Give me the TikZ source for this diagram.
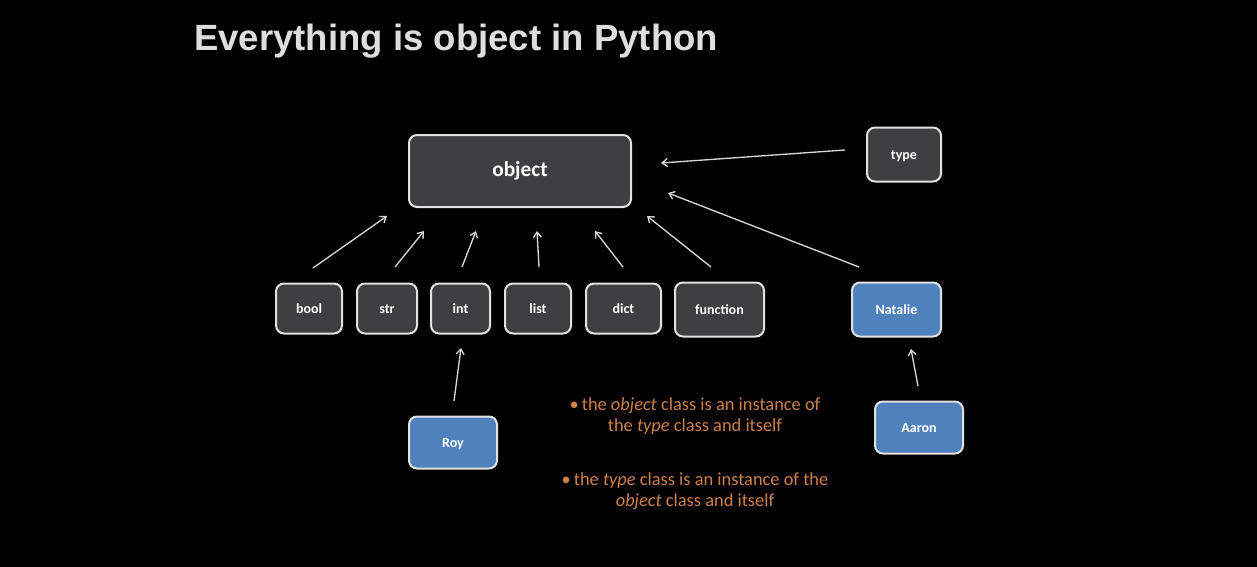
\documentclass[tikz,border=0pt]{standalone}
\usepackage{fontspec}
\setmainfont{Carlito}
\newfontfamily\titlefont{Liberation Sans}
\usetikzlibrary{arrows.meta}
\definecolor{boxfill}{RGB}{63,62,64}
\definecolor{boxline}{RGB}{225,225,225}
\definecolor{bluefill}{RGB}{79,129,189}
\definecolor{notecol}{RGB}{205,128,72}
\definecolor{titlecol}{RGB}{222,222,222}
\definecolor{arrowcol}{RGB}{215,215,215}
\tikzset{
  cbox/.style={draw=boxline, line width=1.5pt, fill=boxfill, rounded corners=6pt,
    text=white, font=\bfseries\fontsize{10.5}{12}\selectfont, inner sep=0pt,
    text height=0.8em, text depth=0pt},
  bbox/.style={cbox, fill=bluefill},
  conn/.style={draw=arrowcol, line width=1pt, -{Straight Barb[length=4pt,width=6pt]}},
  note/.style={text=notecol, font=\fontsize{13.8}{15.8}\selectfont, align=center, inner sep=0pt}
}
\begin{document}
\begin{tikzpicture}[x=0.75pt,y=-0.75pt]
\fill[black] (0,0) rectangle (1257,567);
\useasboundingbox (0,0) rectangle (1257,567);
\node[anchor=west, text=titlecol, font=\titlefont\bfseries\fontsize{27.4}{30}\selectfont, inner sep=0pt] (title) at (194,41.5) {Everything is object in Python};

\node[cbox, minimum width=166.5pt, minimum height=54pt, font=\bfseries\fontsize{16}{18}\selectfont] (object) at (520,171) {object};
\node[cbox, minimum width=55.5pt, minimum height=40.5pt] (type) at (904,154.5) {type};

\node[cbox, minimum width=49.5pt, minimum height=37.5pt] (bool) at (309,308.5) {bool};
\node[cbox, minimum width=45pt, minimum height=37.5pt] (str) at (387,308.5) {str};
\node[cbox, minimum width=44.25pt, minimum height=37.5pt] (int) at (460.5,308.5) {int};
\node[cbox, minimum width=49.5pt, minimum height=37.5pt] (list) at (538,308.5) {list};
\node[cbox, minimum width=56.25pt, minimum height=37.5pt] (dict) at (623.5,308.5) {dict};
\node[cbox, minimum width=66.75pt, minimum height=40.5pt] (function) at (719.5,309.5) {function};
\node[bbox, minimum width=66.75pt, minimum height=40.5pt] (natalie) at (896.5,309.5) {Natalie};
\node[bbox, minimum width=66pt, minimum height=39pt] (roy) at (453,442.5) {Roy};
\node[bbox, minimum width=66pt, minimum height=39pt] (aaron) at (919,427.5) {Aaron};

% arrow end points (arrows do not touch the boxes)
\coordinate (t1) at (845,150);   \coordinate (h1) at (661,163);
\coordinate (t2) at (313,268);   \coordinate (h2) at (387,216);
\coordinate (t3) at (395,267);   \coordinate (h3) at (424,231);
\coordinate (t4) at (462,267);   \coordinate (h4) at (476,231);
\coordinate (t5) at (539,267);   \coordinate (h5) at (537,231);
\coordinate (t6) at (623,267);   \coordinate (h6) at (595,231);
\coordinate (t7) at (711,267);   \coordinate (h7) at (647,216);
\coordinate (t8) at (859,267);   \coordinate (h8) at (668,193);
\coordinate (t9) at (454,401);   \coordinate (h9) at (461,348);
\coordinate (t10) at (918,386);  \coordinate (h10) at (911,349);
\foreach \i in {1,...,10} { \draw[conn] (t\i) -- (h\i); }

\node[note] (note1) at (695,416) {\textbullet\,the \textit{object} class is an instance of\\the \textit{type} class and itself};
\node[note] (note2) at (695,491) {\textbullet\,the \textit{type} class is an instance of the\\\textit{object} class and itself};
\end{tikzpicture}
\end{document}
